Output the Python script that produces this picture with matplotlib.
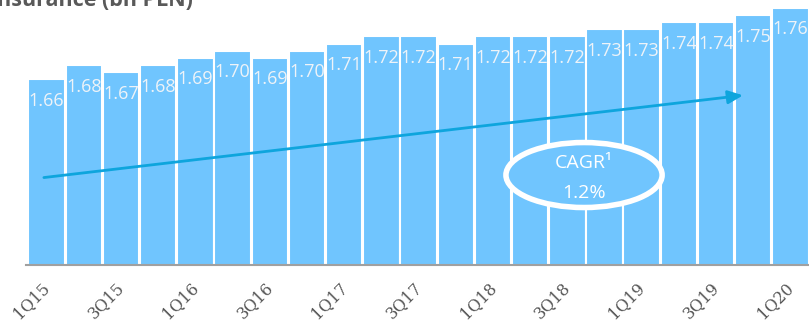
import matplotlib.pyplot as plt
import matplotlib.transforms as mtransforms
from matplotlib.patches import Ellipse

quarters = ["1Q15", "2Q15", "3Q15", "4Q15", "1Q16", "2Q16", "3Q16", "4Q16",
            "1Q17", "2Q17", "3Q17", "4Q17", "1Q18", "2Q18", "3Q18", "4Q18",
            "1Q19", "2Q19", "3Q19", "4Q19", "1Q20"]
values = [1.66, 1.68, 1.67, 1.68, 1.69, 1.70, 1.69, 1.70, 1.71, 1.72, 1.72,
          1.71, 1.72, 1.72, 1.72, 1.73, 1.73, 1.74, 1.74, 1.75, 1.76]
cagr = "1.2%"

bar_color = "#70c5fe"
arrow_color = "#0ea5dd"

fig = plt.figure(figsize=(8.09, 3.24), dpi=100)
ax = fig.add_axes([0.032, 0.182, 0.968, 0.818])

x = range(len(values))
bars = ax.bar(x, values, width=0.98, color=bar_color, edgecolor="white", linewidth=1.5)

for xi, v in zip(x, values):
    ax.annotate("%.2f" % v, (xi, v), xytext=(0, -15.5), textcoords="offset points",
                ha="center", va="center", fontsize=13, color="#eef3f8",
                family="Open Sans")

ax.set_ylim(1.40, 1.771)
ax.set_xlim(-0.56, 20.5)

ax.set_xticks(list(x)[::2])
ax.set_xticklabels(quarters[::2], rotation=45, ha="right", rotation_mode="anchor",
                   family="DejaVu Serif", fontsize=11.5, color="#555555")
ax.tick_params(axis="x", length=0, pad=10)
# nudge the rotated labels a little to the left
shift = mtransforms.ScaledTranslation(-4 / 72, 0, fig.dpi_scale_trans)
for lbl in ax.get_xticklabels():
    lbl.set_transform(lbl.get_transform() + shift)
ax.set_yticks([])
for s in ["top", "left", "right"]:
    ax.spines[s].set_visible(False)
ax.spines["bottom"].set_color("#a0a0a0")
ax.spines["bottom"].set_linewidth(1.5)

# trend arrow across the bars
ax.annotate("", xy=(18.8, 1.638), xytext=(-0.15, 1.522),
            arrowprops=dict(arrowstyle="-|>,head_length=0.9,head_width=0.4",
                            color=arrow_color, lw=2))

# CAGR badge
cx, cy = 14.45, 1.526
ell = Ellipse((cx, cy), width=4.2, height=0.091, facecolor=bar_color,
              edgecolor="white", linewidth=4, zorder=5)
ax.add_patch(ell)
ax.text(cx, cy + 0.017, "CAGR\u00b9", ha="center", va="center", fontsize=14,
        color="white", family="Open Sans", zorder=6)
ax.text(cx, cy - 0.025, cagr, ha="center", va="center", fontsize=14,
        color="white", family="Open Sans", zorder=6)

fig.text(-0.012, 0.982, "Insurance (bn PLN)", ha="left", va="baseline",
         fontsize=15.5, fontweight="bold", color="#595959", family="Open Sans")

fig.savefig("out.png", dpi=100)
